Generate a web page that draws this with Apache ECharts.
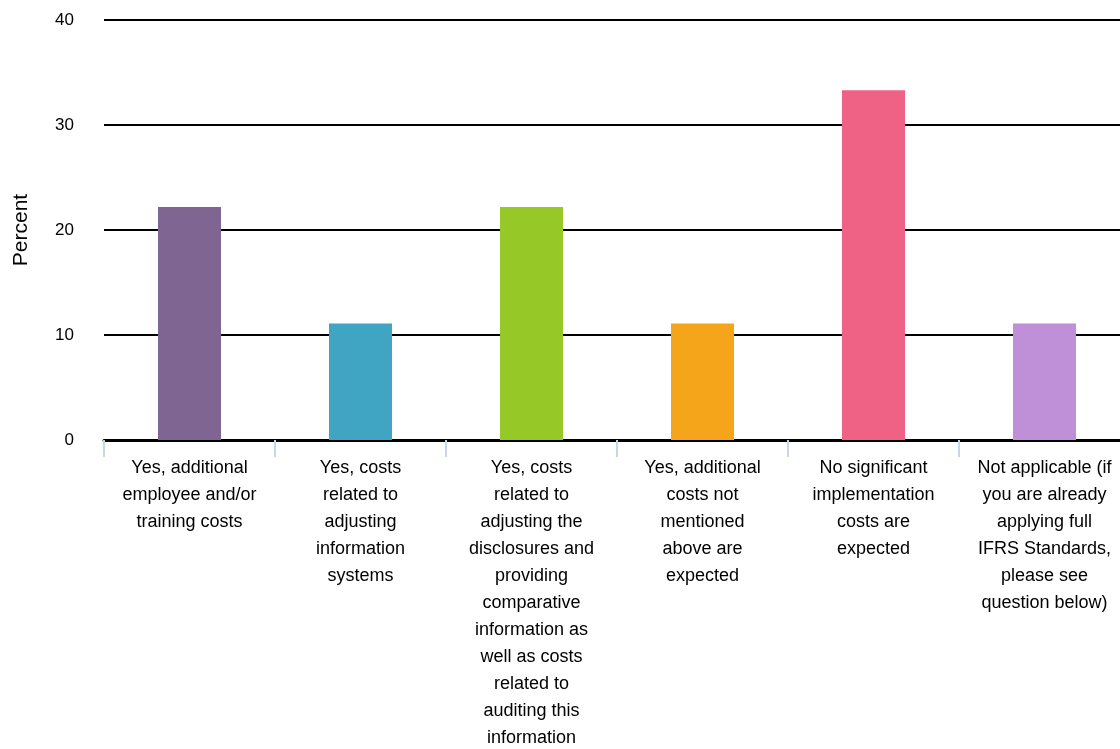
<!DOCTYPE html>
<html>
<head>
<meta charset="utf-8">
<script src="https://cdn.jsdelivr.net/npm/echarts@6/dist/echarts.min.js"></script>
<style>
  html, body { margin: 0; padding: 0; background: #fff; }
  #chart { width: 1120px; height: 749px; }
</style>
</head>
<body>
<div id="chart"></div>
<script>
var categories = [
  'Yes, additional\nemployee and/or\ntraining costs',
  'Yes, costs\nrelated to\nadjusting\ninformation\nsystems',
  'Yes, costs\nrelated to\nadjusting the\ndisclosures and\nproviding\ncomparative\ninformation as\nwell as costs\nrelated to\nauditing this\ninformation',
  'Yes, additional\ncosts not\nmentioned\nabove are\nexpected',
  'No significant\nimplementation\ncosts are\nexpected',
  'Not applicable (if\nyou are already\napplying full\nIFRS Standards,\nplease see\nquestion below)'
];
var percent = [22.2, 11.1, 22.2, 11.1, 33.3, 11.1];
var barColors = ['#7f6591', '#40a4c3', '#96c928', '#f5a51a', '#ef6285', '#bf8fd8'];

var myChart = echarts.init(document.getElementById('chart'));

// grid runs past the right edge, like the original (last label is cut off)
var option = {
  animation: false,
  grid: { left: 104, right: -10, top: 20, bottom: 309, outerBoundsMode: 'none' },
  xAxis: {
    type: 'category',
    data: categories,
    axisLine: { show: true, lineStyle: { color: '#000', width: 3 } },
    axisTick: { show: true, length: 17, lineStyle: { color: '#c9d6ea', width: 2 } },
    axisLabel: {
      interval: 0,
      margin: 15,
      color: '#000',
      fontSize: 18,
      lineHeight: 27,
      fontFamily: 'Liberation Sans, Arial, sans-serif'
    }
  },
  yAxis: {
    type: 'value',
    min: 0,
    max: 40,
    interval: 10,
    name: 'Percent',
    nameLocation: 'middle',
    nameGap: 72,
    nameRotate: 90,
    nameTextStyle: { color: '#000', fontSize: 21, fontFamily: 'Liberation Sans, Arial, sans-serif' },
    axisLine: { show: false },
    axisTick: { show: false },
    axisLabel: { color: '#000', fontSize: 17, margin: 30, fontFamily: 'Liberation Sans, Arial, sans-serif' },
    splitLine: { show: true, lineStyle: { color: '#000', width: 2 } }
  },
  series: [{
    type: 'bar',
    data: percent.map(function (v, i) {
      return { value: v, itemStyle: { color: barColors[i] } };
    }),
    barWidth: 63
  }]
};
myChart.setOption(option);
</script>
</body>
</html>
